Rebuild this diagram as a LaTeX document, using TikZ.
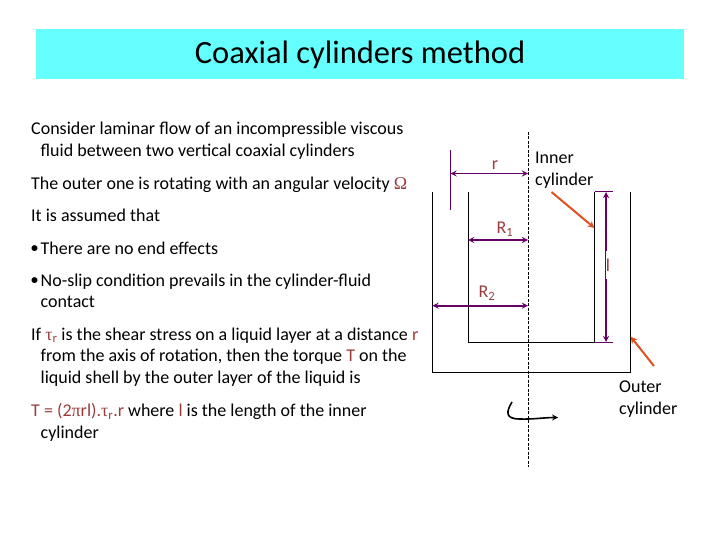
\documentclass[tikz,border=0pt]{standalone}
\usepackage{fontspec}
\setmainfont{Carlito}
\newfontfamily\symfont{Liberation Serif}
\usetikzlibrary{arrows}
\definecolor{bandcyan}{HTML}{66FFFF}
\definecolor{dimpurple}{HTML}{660066}
\definecolor{labelred}{HTML}{993D3D}
\definecolor{pointorange}{HTML}{E0501E}
\newcommand{\sym}[1]{{\symfont\textcolor{labelred}{#1}}}
\newcommand{\red}[1]{\textcolor{labelred}{#1}}
\newcommand{\ind}{\hspace*{9.5pt}}
\newcommand{\blt}{\makebox[9.5pt][l]{\raisebox{1.5pt}{\fontsize{14}{14}\selectfont\textbf{•}}}}
\tikzstyle{para} = [anchor=north west, inner sep=0pt, align=left, font=\fontsize{18}{21.8}\selectfont]
\tikzstyle{label} = [inner sep=0pt, text=labelred, font=\fontsize{18}{21.8}\selectfont]
\tikzstyle{wall} = [line width=1pt, black]
\tikzstyle{dim} = [line width=1.7pt, dimpurple, <->, >=stealth]
\tikzstyle{tick} = [line width=1pt, dimpurple]
\tikzstyle{pointer} = [line width=2pt, pointorange, ->, >=stealth]

\begin{document}
\begin{tikzpicture}[x=1pt, y=-1pt]
    \useasboundingbox (0,0) rectangle (720,540);
    \node (band) [fill=bandcyan, minimum width=648pt, minimum height=50pt, inner sep=0pt, text height=20pt, text depth=0pt, font=\fontsize{32.5}{36}\selectfont] at (360,54) {Coaxial cylinders method};

    % left column
    \node (consider) [para] at (31,122) {Consider laminar flow of an incompressible viscous\\ \ind fluid between two vertical coaxial cylinders};
    \node (outer) [para] at (31,176.5) {The outer one is rotating with an angular velocity \sym{Ω}};
    \node (assumed) [para] at (31,208.5) {It is assumed that};
    \node (noend) [para] at (31,241.5) {\blt There are no end effects};
    \node (noslip) [para] at (31,273.5) {\blt No-slip condition prevails in the cylinder-fluid\\ \ind contact};
    \node (shear) [para] at (31,327.5) {If \sym{τ}\textsubscript{\red{r}} is the shear stress on a liquid layer at a distance \red{r}\\ \ind from the axis of rotation, then the torque \red{T} on the\\ \ind liquid shell by the outer layer of the liquid is};
    \node (torque) [para] at (31,403.5) {\red{T = (2}\sym{π}\red{rl).}\sym{τ}\textsubscript{\red{r}}\red{.r} where \red{l} is the length of the inner\\ \ind cylinder};

    % cylinders
    \draw[wall] (432.5,192) -- (432.5,372) -- (630,372) -- (630,192);
    \draw[wall] (468,192) -- (468,342) -- (594.5,342) -- (594.5,192);
    \coordinate (axistop) at (528,132);
    \coordinate (axisbot) at (528,467);
    \draw[line width=1pt, dash pattern=on 3pt off 1.5pt] (axistop) -- (axisbot);

    % radii
    \draw[tick] (450.5,150) -- (450.5,210.5);
    \coordinate (rleft) at (450.5,173.5);
    \coordinate (rright) at (528,173.5);
    \coordinate (Ronein) at (468,240);
    \coordinate (Roneax) at (528,240);
    \coordinate (Rtwoout) at (432.5,305.7);
    \coordinate (Rtwoax) at (528,305.7);
    \draw[dim] (rleft) -- (rright);
    \draw[dim] (Ronein) -- (Roneax);
    \draw[dim] (Rtwoout) -- (Rtwoax);
    \node (rlabel) [label] at (495,165) {r};
    \node (Ronelabel) [label] at (505,229) {R\textsubscript{1}};
    \node (Rtwolabel) [label] at (487,293) {R\textsubscript{2}};

    % length of inner cylinder
    \draw[tick] (594.5,192) -- (613,192);
    \draw[tick] (594.5,342) -- (613,342);
    \coordinate (ltop) at (606,192);
    \coordinate (lbot) at (606,342);
    \draw[dim] (ltop) -- (lbot);
    \node (llabel) [label, fill=white, minimum height=28pt, minimum width=5pt] at (608,265) {l};

    % cylinder names
    \node (inner) [para, anchor=west] at (535,170) {Inner\\cylinder};
    \node (outerlabel) [para, anchor=west] at (619,399) {Outer\\cylinder};
    \coordinate (innerhit) at (594.5,228);
    \coordinate (outerhit) at (630.5,336.5);
    \draw[pointer] (551.5,192) -- (innerhit);
    \draw[pointer] (654,366) -- (outerhit);

    % rotation
    \coordinate (rotstart) at (512,402);
    \coordinate (rotend) at (558,417.5);
    \draw[line width=1.6pt, black, ->, >=stealth] (rotstart) .. controls (506,412) and (505,419) .. (520,419) .. controls (532,419.5) and (545,417.5) .. (rotend);
\end{tikzpicture}
\end{document}
